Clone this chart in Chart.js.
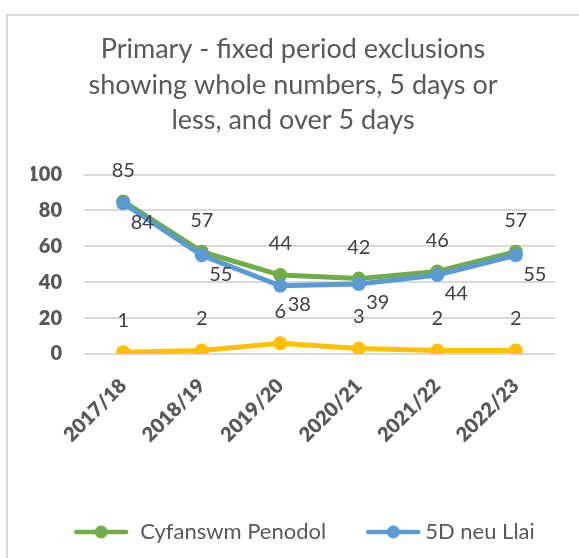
<!DOCTYPE html>
<html>
<head>
<meta charset="utf-8">
<script src="https://cdn.jsdelivr.net/npm/chart.js@4/dist/chart.umd.min.js"></script>
<style>
  html, body { margin: 0; padding: 0; background: #fff; overflow: hidden; }
  #frame { position: absolute; left: 6px; top: 14px; width: 700px; height: 700px;
           border-left: 2px solid #d9d9d9; border-top: 2px solid #d9d9d9; }
  #wrap { position: absolute; left: 0; top: 0; width: 579px; height: 558px; }
</style>
</head>
<body>
<div id="frame"></div>
<div id="wrap"><canvas id="grafico"></canvas></div>
<script>
const blynyddoedd = ['2017/18', '2018/19', '2019/20', '2020/21', '2021/22', '2022/23'];
const cyfanswm = [85, 57, 44, 42, 46, 57];
const pumpNeuLlai = [84, 55, 38, 39, 44, 55];
const dros5 = [1, 2, 6, 3, 2, 2];
const teitl = ['Primary - fixed period exclusions', 'showing whole numbers, 5 days or', 'less, and over 5 days'];

const gwyrdd = '#70AD47';
const glas = '#5B9BD5';
const melyn = '#FFC000';
const llwyd = '#595959';

Chart.defaults.font.family = 'Lato';

// legend marker: line with a dot, sitting at the right end of a wider transparent image
// so it ends close to the label text
const boxW = [64, 78, 78];
function marker(colour, w) {
  const c = document.createElement('canvas');
  c.width = w + 14; c.height = 14;
  const g = c.getContext('2d');
  const x0 = c.width - 56;
  g.strokeStyle = colour;
  g.lineWidth = 4.5;
  g.lineCap = 'round';
  g.beginPath(); g.moveTo(x0 + 3, 7); g.lineTo(x0 + 53, 7); g.stroke();
  g.fillStyle = colour;
  g.beginPath(); g.arc(x0 + 28, 7, 6.5, 0, Math.PI * 2); g.fill();
  return c;
}
const markers = [marker(gwyrdd, boxW[0]), marker(glas, boxW[1]), marker(melyn, boxW[2])];

// value labels next to each point
const etiquetas = {
  id: 'etiquetas',
  afterDatasetsDraw(chart) {
    const ctx = chart.ctx;
    ctx.save();
    ctx.font = '20px Lato';
    ctx.fillStyle = '#404040';
    ctx.textAlign = 'center';
    ctx.textBaseline = 'middle';
    chart.data.datasets.forEach((ds, i) => {
      const meta = chart.getDatasetMeta(i);
      meta.data.forEach((pt, j) => {
        ctx.fillText(ds.data[j], pt.x + ds.labelOffset[0], pt.y + ds.labelOffset[1]);
      });
    });
    ctx.restore();
  }
};

function series(label, data, colour, order, labelOffset) {
  return {
    label: label,
    data: data,
    borderColor: colour,
    backgroundColor: colour,
    borderWidth: 5,
    pointRadius: 7,
    pointHoverRadius: 7,
    pointBorderWidth: 0,
    pointBackgroundColor: colour,
    tension: 0,
    order: order,
    labelOffset: labelOffset
  };
}

const ctx = document.getElementById('grafico').getContext('2d');

new Chart(ctx, {
  type: 'line',
  data: {
    labels: blynyddoedd,
    datasets: [
      series('Cyfanswm Penodol', cyfanswm, gwyrdd, 3, [0, -31]),
      series('5D neu Llai', pumpNeuLlai, glas, 2, [19, 19]),
      series('Dros 5D', dros5, melyn, 1, [0, -32])
    ]
  },
  plugins: [etiquetas],
  options: {
    responsive: true,
    maintainAspectRatio: false,
    animation: false,
    layout: { padding: { left: 31, right: 24, top: 32, bottom: 5 } },
    plugins: {
      tooltip: { enabled: false },
      title: {
        display: true,
        text: teitl,
        color: llwyd,
        font: { size: 27, weight: 'normal', lineHeight: 1.315 },
        padding: { top: 0, bottom: 36 }
      },
      legend: {
        position: 'bottom',
        labels: {
          color: llwyd,
          font: { size: 22 },
          usePointStyle: true,
          pointStyleWidth: 78,
          padding: 10,
          filter: item => item.datasetIndex < 2,
          sort: (a, b) => a.datasetIndex - b.datasetIndex,
          generateLabels: chart => Chart.defaults.plugins.legend.labels.generateLabels(chart)
            .map(item => Object.assign(item, { pointStyle: markers[item.datasetIndex] }))
        }
      }
    },
    scales: {
      y: {
        min: 0,
        max: 100,
        ticks: { stepSize: 20, color: llwyd, font: { size: 20, weight: 800 }, padding: 22 },
        grid: { color: '#d9d9d9', lineWidth: 2, drawTicks: false },
        border: { display: false },
        afterFit: s => { s.width = 53; }
      },
      x: {
        offset: true,
        ticks: { color: llwyd, font: { size: 20, weight: 800 }, minRotation: 45, maxRotation: 45, autoSkip: false, padding: 20 },
        grid: { display: false, drawTicks: false, offset: true },
        border: { display: false },
        afterFit: s => { s.height = 157; }
      }
    }
  }
});
</script>
</body>
</html>
